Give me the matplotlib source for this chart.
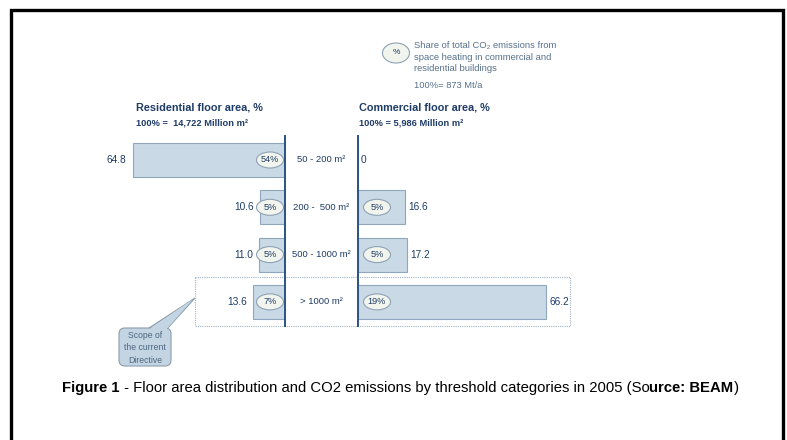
import matplotlib.pyplot as plt
from matplotlib.patches import Ellipse, Rectangle, FancyBboxPatch, Polygon

plt.rcParams['font.family'] = ['Liberation Sans', 'DejaVu Sans']

# data
categories = ['50 - 200 m²', '200 -  500 m²', '500 - 1000 m²', '> 1000 m²']
residential = [64.8, 10.6, 11.0, 13.6]
commercial = [0, 16.6, 17.2, 66.2]
res_co2 = ['54%', '5%', '5%', '7%']
com_co2 = [None, '5%', '5%', '19%']

navy = '#1f3c66'
bar_fc = '#c9d9e5'
bar_ec = '#8ea7bf'
line_c = '#2c5282'
grey_blue = '#56708c'

W, H = 787, 440
fig = plt.figure(figsize=(W / 100, H / 100), dpi=100)

# row geometry in pixels
y0, dy = 160, 47.3
def row_y(i):
    return y0 + dy * i

top_px, bot_px = row_y(-0.5), row_y(3.5)
cl, cr = 285, 358          # inner edges of the two bar panels
lscale, rscale = 2.35, 2.84  # pixels per %
span = 80

def px_axes(x_left, x_right):
    return fig.add_axes([x_left / W, 1 - bot_px / H, (x_right - x_left) / W,
                         (bot_px - top_px) / H])

axl = px_axes(cl - span * lscale, cl)
axr = px_axes(cr, cr + span * rscale)
rows = list(range(len(categories)))
axl.barh(rows, residential, height=0.72, color=bar_fc, edgecolor=bar_ec, lw=0.8)
axr.barh(rows, commercial, height=0.72, color=bar_fc, edgecolor=bar_ec, lw=0.8)
axl.set_xlim(span, 0)
axr.set_xlim(0, span)
for a in (axl, axr):
    a.set_ylim(3.5, -0.5)
    a.axis('off')

for i, v in enumerate(residential):
    axl.text(v + 6 / lscale, i, f'{v:.1f}', ha='right', va='center',
             fontsize=7.3, color=navy)
for i, v in enumerate(commercial):
    axr.text(v + 3 / rscale, i, f'{v:.1f}' if v else '0', ha='left',
             va='center', fontsize=7.3, color=navy)

# overlay axes in pixel units, drawn on top of the bars
ax0 = fig.add_axes([0, 0, 1, 1])
ax0.set_xlim(0, W)
ax0.set_ylim(H, 0)
ax0.axis('off')
ax0.set_zorder(10)

# page frame (open at bottom)
ax0.plot([10.5, 10.5, 783, 783], [H, 10.5, 10.5, H], color='black', lw=2.4,
         solid_joinstyle='miter')

# CO2 share bubbles
def bubble(x, y, txt, w=27, h=16, fs=6.6):
    ax0.add_patch(Ellipse((x, y), w, h, fc='#f2f5ee', ec='#8ea2b5', lw=0.8,
                          zorder=5))
    ax0.text(x, y, txt, ha='center', va='center', fontsize=fs, color=navy,
             zorder=6)

for i in rows:
    bubble(270, row_y(i), res_co2[i])
    if com_co2[i]:
        bubble(377, row_y(i), com_co2[i])
    ax0.text((cl + cr) / 2, row_y(i), categories[i], ha='center',
             va='center', fontsize=6.8, color=navy)

# centre lines
for x in (cl, cr):
    ax0.plot([x, x], [136, 326], color=line_c, lw=1.4, zorder=7)

# scope box and callout
ax0.add_patch(Rectangle((195, 277), 375, 49, fill=False, ec='#9fb2c4',
                        lw=0.8, ls=(0, (1, 1))))
wedge = [(146, 330), (166, 330), (195, 298)]
ax0.add_patch(Polygon(wedge, closed=True, fc='#c3d5e3', ec='#8c9cab', lw=0.8,
                      zorder=3))
ax0.add_patch(FancyBboxPatch((119, 328), 52, 38,
                             boxstyle='round,pad=0,rounding_size=6',
                             fc='#c3d5e3', ec='#8c9cab', lw=0.8, zorder=3))
ax0.add_patch(Polygon([(147, 331), (165, 331), (193, 299)], closed=True,
                      fc='#c3d5e3', ec='none', zorder=4))
ax0.text(145, 348, 'Scope of\nthe current\nDirective', ha='center',
         va='center', fontsize=6.2, color='#4d6780', linespacing=1.55,
         zorder=5)

# headers
ax0.text(136, 107, 'Residential floor area, %', fontsize=7.8,
         fontweight='bold', color=navy, va='center')
ax0.text(136, 123, '100% =  14,722 Million m²', fontsize=6.7,
         fontweight='bold', color=navy, va='center')
ax0.text(359, 107, 'Commercial floor area, %', fontsize=7.8,
         fontweight='bold', color=navy, va='center')
ax0.text(359, 123, '100% = 5,986 Million m²', fontsize=6.7,
         fontweight='bold', color=navy, va='center')

# legend
bubble(396, 53, '%', w=27, h=20, fs=6)
ax0.text(414, 57, 'Share of total CO₂ emissions from\nspace heating in commercial and\nresidential buildings',
         fontsize=6.75, color=grey_blue, va='center', linespacing=1.35)
ax0.text(414, 85, '100%= 873 Mt/a', fontsize=6.75, color=grey_blue,
         va='center')

# caption with mixed weights
fig.canvas.draw()
r = fig.canvas.get_renderer()
parts = [('Figure 1', 'bold'),
         (' - Floor area distribution and CO2 emissions by threshold categories in 2005 (So', 'normal'),
         ('urce: BEAM', 'bold'), (')', 'normal')]
x = 62
for s, wt in parts:
    t = ax0.text(x, 388, s, fontsize=10.7, fontweight=wt, color='black',
                 va='center')
    bb = t.get_window_extent(r)
    x += bb.width

fig.savefig('out.png', dpi=100)
